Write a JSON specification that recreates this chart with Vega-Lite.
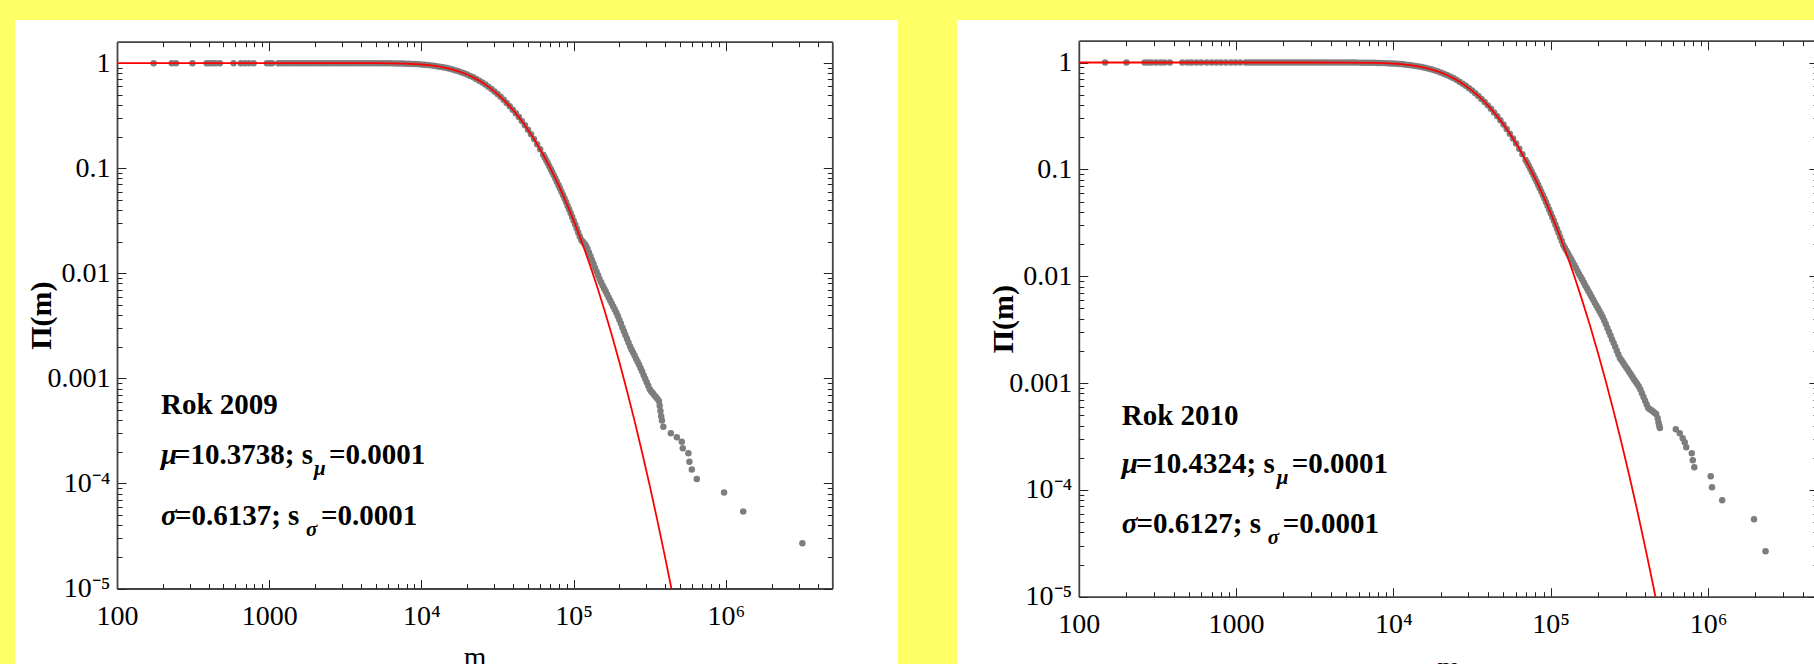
{
"$schema":"https://vega.github.io/schema/vega-lite/v6.json",
"background":"#ffff66",
"padding":{"left":15,"top":20,"right":0,"bottom":0},
"spacing":59,
"config":{"view":{"fill":"white","stroke":null},"axis":{"grid":false,"labelFont":"Liberation Serif","titleFont":"Liberation Serif","tickColor":"#222","tickWidth":1,"domainColor":"#444","domainWidth":1.8,"labelColor":"#000","titleColor":"#000","titleFontWeight":"normal"}},
"datasets":{
"d09":[{"m":174,"p":1},{"m":229,"p":1},{"m":244,"p":1},{"m":313,"p":1},{"m":388,"p":1},{"m":405,"p":1},{"m":422,"p":1},{"m":445,"p":1},{"m":474,"p":1},{"m":583,"p":1},{"m":650,"p":1},{"m":690,"p":1},{"m":735,"p":1},{"m":790,"p":1},{"m":965,"p":1},{"m":1010,"p":1},{"m":1045,"p":1},{"m":1148,"p":1},{"m":1202,"p":1},{"m":1259,"p":1},{"m":1318,"p":1},{"m":1380,"p":1},{"m":1445,"p":1},{"m":1514,"p":1},{"m":1585,"p":1},{"m":1660,"p":1},{"m":1738,"p":1},{"m":1820,"p":1},{"m":1905,"p":1},{"m":1995,"p":1},{"m":2089,"p":1},{"m":2188,"p":1},{"m":2291,"p":1},{"m":2399,"p":1},{"m":2512,"p":1},{"m":2630,"p":1},{"m":2754,"p":1},{"m":2884,"p":1},{"m":3020,"p":1},{"m":3162,"p":1},{"m":3311,"p":1},{"m":3467,"p":1},{"m":3631,"p":1},{"m":3802,"p":1},{"m":3981,"p":0.9997},{"m":4169,"p":0.9996},{"m":4365,"p":0.9994},{"m":4571,"p":0.9992},{"m":4786,"p":0.999},{"m":5012,"p":0.9987},{"m":5248,"p":0.9984},{"m":5495,"p":0.998},{"m":5754,"p":0.9974},{"m":6026,"p":0.9967},{"m":6310,"p":0.9959},{"m":6607,"p":0.9949},{"m":6918,"p":0.9937},{"m":7244,"p":0.9922},{"m":7586,"p":0.9905},{"m":7943,"p":0.9884},{"m":8318,"p":0.9859},{"m":8710,"p":0.983},{"m":9120,"p":0.9796},{"m":9550,"p":0.9756},{"m":10000,"p":0.971},{"m":10471,"p":0.9656},{"m":10965,"p":0.9595},{"m":11482,"p":0.9525},{"m":12023,"p":0.9446},{"m":12589,"p":0.9357},{"m":13183,"p":0.9258},{"m":13804,"p":0.9147},{"m":14454,"p":0.9023},{"m":15136,"p":0.8888},{"m":15849,"p":0.8739},{"m":16596,"p":0.8577},{"m":17378,"p":0.8401},{"m":18197,"p":0.8212},{"m":19055,"p":0.8009},{"m":19953,"p":0.7794},{"m":20893,"p":0.7565},{"m":21878,"p":0.7323},{"m":22909,"p":0.7071},{"m":23988,"p":0.6808},{"m":25119,"p":0.6536},{"m":26303,"p":0.6255},{"m":27542,"p":0.5968},{"m":28840,"p":0.5675},{"m":30200,"p":0.5378},{"m":31623,"p":0.5078},{"m":33113,"p":0.4779},{"m":34674,"p":0.448},{"m":36308,"p":0.4186},{"m":38019,"p":0.3895},{"m":39811,"p":0.361},{"m":41687,"p":0.3333},{"m":43652,"p":0.3065},{"m":45709,"p":0.2807},{"m":47863,"p":0.2559},{"m":50119,"p":0.2324},{"m":52481,"p":0.2101},{"m":54954,"p":0.1892},{"m":57544,"p":0.1695},{"m":60256,"p":0.1512},{"m":63096,"p":0.1343},{"m":64565,"p":0.1264},{"m":66069,"p":0.1188},{"m":67608,"p":0.1115},{"m":69183,"p":0.1045},{"m":70795,"p":0.0979},{"m":72444,"p":0.0916},{"m":74131,"p":0.0855},{"m":75858,"p":0.0798},{"m":77625,"p":0.0744},{"m":79433,"p":0.0693},{"m":81283,"p":0.0644},{"m":83176,"p":0.0598},{"m":85114,"p":0.0555},{"m":87096,"p":0.0514},{"m":89125,"p":0.0476},{"m":91201,"p":0.044},{"m":93325,"p":0.0406},{"m":95499,"p":0.0374},{"m":97724,"p":0.0345},{"m":100000,"p":0.0317},{"m":102329,"p":0.0291},{"m":104713,"p":0.0267},{"m":107152,"p":0.0245},{"m":109648,"p":0.0224},{"m":112202,"p":0.0207},{"m":114815,"p":0.02},{"m":117490,"p":0.0192},{"m":120226,"p":0.0184},{"m":123027,"p":0.0172},{"m":125893,"p":0.0158},{"m":128825,"p":0.0146},{"m":131826,"p":0.0134},{"m":134896,"p":0.0123},{"m":138038,"p":0.0113},{"m":141254,"p":0.0104},{"m":144544,"p":0.00957},{"m":147911,"p":0.00881},{"m":151356,"p":0.0082},{"m":154882,"p":0.00767},{"m":158489,"p":0.00718},{"m":162181,"p":0.00673},{"m":165959,"p":0.0063},{"m":169824,"p":0.00589},{"m":173780,"p":0.00551},{"m":177828,"p":0.00516},{"m":181970,"p":0.00483},{"m":186209,"p":0.00452},{"m":190546,"p":0.00424},{"m":194984,"p":0.00392},{"m":199526,"p":0.00361},{"m":204174,"p":0.00332},{"m":208930,"p":0.00305},{"m":213796,"p":0.00281},{"m":218776,"p":0.00259},{"m":223872,"p":0.00238},{"m":229087,"p":0.00219},{"m":234423,"p":0.00202},{"m":239883,"p":0.00188},{"m":245471,"p":0.00176},{"m":251189,"p":0.00165},{"m":257040,"p":0.00154},{"m":263027,"p":0.00144},{"m":269153,"p":0.00135},{"m":275423,"p":0.00125},{"m":281838,"p":0.00116},{"m":288403,"p":0.00107},{"m":295121,"p":0.000991},{"m":301995,"p":0.000918},{"m":309030,"p":0.000849},{"m":316228,"p":0.000787},{"m":323594,"p":0.00075},{"m":331131,"p":0.000721},{"m":338844,"p":0.000692},{"m":346737,"p":0.000665},{"m":354813,"p":0.000638},{"m":363078,"p":0.00061},{"m":367300,"p":0.00055},{"m":371535,"p":0.00049},{"m":375837,"p":0.000437},{"m":380189,"p":0.000398},{"m":388150,"p":0.000347},{"m":435000,"p":0.0003},{"m":476000,"p":0.000275},{"m":513000,"p":0.000249},{"m":521000,"p":0.000216},{"m":567000,"p":0.000194},{"m":576000,"p":0.000161},{"m":597000,"p":0.000136},{"m":644000,"p":0.00011},{"m":973000,"p":0.000082},{"m":1300000,"p":0.000054},{"m":3180000,"p":0.000027}],
"f09":[{"m":100,"p":1},{"m":1000,"p":1},{"m":3162,"p":0.99992},{"m":5012,"p":0.99874},{"m":6310,"p":0.9959},{"m":7943,"p":0.9884},{"m":10000,"p":0.971},{"m":11220,"p":0.9562},{"m":12589,"p":0.9357},{"m":14125,"p":0.9087},{"m":15849,"p":0.8739},{"m":17783,"p":0.8308},{"m":19953,"p":0.7794},{"m":22387,"p":0.7198},{"m":25119,"p":0.6536},{"m":28184,"p":0.582},{"m":31623,"p":0.5078},{"m":35481,"p":0.4333},{"m":39811,"p":0.361},{"m":44668,"p":0.2935},{"m":50119,"p":0.2324},{"m":56234,"p":0.1792},{"m":63096,"p":0.1343},{"m":70795,"p":0.0979},{"m":79433,"p":0.0693},{"m":89125,"p":0.0476},{"m":100000,"p":0.0317},{"m":112202,"p":0.0205},{"m":125893,"p":0.01282},{"m":141254,"p":0.00778},{"m":158489,"p":0.00457},{"m":177828,"p":0.0026},{"m":199526,"p":0.001432},{"m":223872,"p":0.000763},{"m":251189,"p":0.000394},{"m":281838,"p":0.000196},{"m":316228,"p":0.0000948},{"m":354813,"p":0.0000443},{"m":398107,"p":0.00002},{"m":438500,"p":0.00001}],
"d10":[{"m":147,"p":1},{"m":201,"p":1},{"m":262,"p":1},{"m":275,"p":1},{"m":290,"p":1},{"m":310,"p":1},{"m":330,"p":1},{"m":350,"p":1},{"m":379,"p":1},{"m":455,"p":1},{"m":490,"p":1},{"m":520,"p":1},{"m":560,"p":1},{"m":600,"p":1},{"m":650,"p":1},{"m":700,"p":1},{"m":750,"p":1},{"m":800,"p":1},{"m":860,"p":1},{"m":925,"p":1},{"m":990,"p":1},{"m":1060,"p":1},{"m":1148,"p":1},{"m":1202,"p":1},{"m":1259,"p":1},{"m":1318,"p":1},{"m":1380,"p":1},{"m":1445,"p":1},{"m":1514,"p":1},{"m":1585,"p":1},{"m":1660,"p":1},{"m":1738,"p":1},{"m":1820,"p":1},{"m":1905,"p":1},{"m":1995,"p":1},{"m":2089,"p":1},{"m":2188,"p":1},{"m":2291,"p":1},{"m":2399,"p":1},{"m":2512,"p":1},{"m":2630,"p":1},{"m":2754,"p":1},{"m":2884,"p":1},{"m":3020,"p":1},{"m":3162,"p":1},{"m":3311,"p":1},{"m":3467,"p":1},{"m":3631,"p":1},{"m":3802,"p":1},{"m":3981,"p":0.9998},{"m":4169,"p":0.9997},{"m":4365,"p":0.9996},{"m":4571,"p":0.9995},{"m":4786,"p":0.9993},{"m":5012,"p":0.9991},{"m":5248,"p":0.9988},{"m":5495,"p":0.9985},{"m":5754,"p":0.9981},{"m":6026,"p":0.9976},{"m":6310,"p":0.997},{"m":6607,"p":0.9962},{"m":6918,"p":0.9953},{"m":7244,"p":0.9942},{"m":7586,"p":0.9928},{"m":7943,"p":0.9911},{"m":8318,"p":0.9891},{"m":8710,"p":0.9868},{"m":9120,"p":0.984},{"m":9550,"p":0.9808},{"m":10000,"p":0.977},{"m":10471,"p":0.9726},{"m":10965,"p":0.9675},{"m":11482,"p":0.9616},{"m":12023,"p":0.9549},{"m":12589,"p":0.9473},{"m":13183,"p":0.9387},{"m":13804,"p":0.9291},{"m":14454,"p":0.9183},{"m":15136,"p":0.9064},{"m":15849,"p":0.8931},{"m":16596,"p":0.8786},{"m":17378,"p":0.8628},{"m":18197,"p":0.8457},{"m":19055,"p":0.8272},{"m":19953,"p":0.807},{"m":20893,"p":0.7858},{"m":21878,"p":0.7633},{"m":22909,"p":0.7396},{"m":23988,"p":0.7146},{"m":25119,"p":0.6883},{"m":26303,"p":0.6613},{"m":27542,"p":0.6335},{"m":28840,"p":0.6049},{"m":30200,"p":0.5757},{"m":31623,"p":0.5458},{"m":33113,"p":0.516},{"m":34674,"p":0.486},{"m":36308,"p":0.4562},{"m":38019,"p":0.4266},{"m":39811,"p":0.397},{"m":41687,"p":0.3684},{"m":43652,"p":0.3405},{"m":45709,"p":0.3135},{"m":47863,"p":0.2874},{"m":50119,"p":0.2624},{"m":52481,"p":0.2385},{"m":54954,"p":0.2157},{"m":57544,"p":0.1944},{"m":60256,"p":0.1744},{"m":63096,"p":0.1558},{"m":66069,"p":0.1385},{"m":69183,"p":0.1224},{"m":70795,"p":0.1151},{"m":72444,"p":0.1079},{"m":74131,"p":0.1011},{"m":75858,"p":0.0946},{"m":77625,"p":0.0884},{"m":79433,"p":0.0826},{"m":81283,"p":0.077},{"m":83176,"p":0.0717},{"m":85114,"p":0.0667},{"m":87096,"p":0.0619},{"m":89125,"p":0.0575},{"m":91201,"p":0.0533},{"m":93325,"p":0.0494},{"m":95499,"p":0.0456},{"m":97724,"p":0.0421},{"m":100000,"p":0.0389},{"m":102329,"p":0.0358},{"m":104713,"p":0.033},{"m":107152,"p":0.0303},{"m":109648,"p":0.0278},{"m":112202,"p":0.0255},{"m":114815,"p":0.0233},{"m":117490,"p":0.0213},{"m":120226,"p":0.0196},{"m":123027,"p":0.0184},{"m":125893,"p":0.0173},{"m":128825,"p":0.0163},{"m":131826,"p":0.0153},{"m":134896,"p":0.0144},{"m":138038,"p":0.0135},{"m":141254,"p":0.0127},{"m":144544,"p":0.0119},{"m":147911,"p":0.0112},{"m":151356,"p":0.0105},{"m":154882,"p":0.00989},{"m":158489,"p":0.00929},{"m":162181,"p":0.00873},{"m":165959,"p":0.0082},{"m":169824,"p":0.00771},{"m":173780,"p":0.00724},{"m":177828,"p":0.00681},{"m":181970,"p":0.0064},{"m":186209,"p":0.00601},{"m":190546,"p":0.00565},{"m":194984,"p":0.00531},{"m":199526,"p":0.005},{"m":204174,"p":0.0047},{"m":208930,"p":0.00442},{"m":213796,"p":0.00416},{"m":218776,"p":0.00385},{"m":223872,"p":0.00356},{"m":229087,"p":0.00327},{"m":234423,"p":0.00302},{"m":239883,"p":0.00279},{"m":245471,"p":0.00256},{"m":251189,"p":0.00237},{"m":257040,"p":0.00218},{"m":263027,"p":0.00201},{"m":269153,"p":0.00185},{"m":275423,"p":0.00171},{"m":281838,"p":0.00163},{"m":288403,"p":0.00155},{"m":295121,"p":0.00147},{"m":301995,"p":0.0014},{"m":309030,"p":0.00133},{"m":316228,"p":0.00126},{"m":323594,"p":0.0012},{"m":331131,"p":0.00114},{"m":338844,"p":0.00108},{"m":346737,"p":0.00103},{"m":354813,"p":0.000977},{"m":363078,"p":0.000929},{"m":371535,"p":0.000871},{"m":380189,"p":0.000804},{"m":389045,"p":0.000741},{"m":398107,"p":0.000684},{"m":407380,"p":0.000631},{"m":416869,"p":0.000585},{"m":426580,"p":0.000569},{"m":436516,"p":0.000555},{"m":446684,"p":0.00054},{"m":457088,"p":0.000526},{"m":467735,"p":0.000512},{"m":478630,"p":0.000468},{"m":484172,"p":0.000427},{"m":489779,"p":0.000398},{"m":494310,"p":0.00038},{"m":624000,"p":0.00037},{"m":661000,"p":0.000339},{"m":690000,"p":0.000304},{"m":711000,"p":0.000279},{"m":727000,"p":0.000251},{"m":788000,"p":0.00022},{"m":800000,"p":0.000189},{"m":818000,"p":0.000163},{"m":1040000,"p":0.000134},{"m":1060000,"p":0.000106},{"m":1230000,"p":0.00008},{"m":1960000,"p":0.000053},{"m":2320000,"p":0.0000266}],
"f10":[{"m":100,"p":1},{"m":1000,"p":1},{"m":3162,"p":0.99995},{"m":5012,"p":0.9991},{"m":7943,"p":0.99111},{"m":10000,"p":0.97698},{"m":11220,"p":0.9646},{"m":12589,"p":0.9473},{"m":14125,"p":0.9238},{"m":15849,"p":0.8931},{"m":17783,"p":0.8543},{"m":19953,"p":0.807},{"m":22387,"p":0.7514},{"m":25119,"p":0.6883},{"m":28184,"p":0.6192},{"m":31623,"p":0.5458},{"m":35481,"p":0.4711},{"m":39811,"p":0.3972},{"m":44668,"p":0.327},{"m":50119,"p":0.2623},{"m":56234,"p":0.2049},{"m":63096,"p":0.1557},{"m":70795,"p":0.1151},{"m":79433,"p":0.0826},{"m":89125,"p":0.0575},{"m":100000,"p":0.0389},{"m":112202,"p":0.0255},{"m":125893,"p":0.0162},{"m":141254,"p":0.00997},{"m":158489,"p":0.00594},{"m":177828,"p":0.00343},{"m":199526,"p":0.00192},{"m":223872,"p":0.00104},{"m":251189,"p":0.000543},{"m":281838,"p":0.000275},{"m":316228,"p":0.000135},{"m":354813,"p":0.000064},{"m":398107,"p":0.0000293},{"m":446684,"p":0.000013},{"m":463000,"p":0.00001}],
"t09b":[{"m":194.5,"p":0.000458,"t":"Rok 2009"},{"m":237,"p":0.0001532,"t":"=10.3738; s"},{"m":2472,"p":0.0001532,"t":"=0.0001"},{"m":240,"p":0.0000403,"t":"=0.6137; s"},{"m":2189,"p":0.0000403,"t":"=0.0001"}],
"t09i":[{"m":194.5,"p":0.0001532,"t":"μ"},{"m":194.5,"p":0.0000403,"t":"σ"}],
"t09s":[{"m":1970,"p":0.0001205,"t":"μ"},{"m":1745,"p":0.0000317,"t":"σ"}],
"t10b":[{"m":187.6,"p":0.000403,"t":"Rok 2010"},{"m":230,"p":0.000143,"t":"=10.4324; s"},{"m":2260,"p":0.000143,"t":"=0.0001"},{"m":233,"p":0.0000392,"t":"=0.6127; s"},{"m":1982,"p":0.0000392,"t":"=0.0001"}],
"t10i":[{"m":187.6,"p":0.000143,"t":"μ"},{"m":187.6,"p":0.0000392,"t":"σ"}],
"t10s":[{"m":1815,"p":0.000113,"t":"μ"},{"m":1591,"p":0.0000309,"t":"σ"}]
},
"hconcat":[
{
"width":883,"height":660,
"resolve":{"axis":{"x":"independent","y":"independent"}},
"layer":[
{"data":{"name":"d09"},"mark":{"type":"circle","size":42,"color":"#7d7d7d","opacity":1},
"encoding":{
"x":{"field":"m","type":"quantitative","scale":{"type":"log","domain":[100,5000000],"range":[102,817.3],"nice":false},
"axis":{"orient":"bottom","offset":-91.5,"values":[100,1000,10000,100000,1000000],"tickSize":-9,"labelFontSize":28,"labelPadding":22.5,"labelFlush":false,"labelOverlap":false,"labelBound":false,"labelExpr":"datum.value < 5000 ? format(datum.value, 'd') : datum.value < 50000 ? '10⁴' : datum.value < 500000 ? '10⁵' : '10⁶'","title":"m","titleFontSize":29,"titleBaseline":"alphabetic","titleY":78}},
"y":{"field":"p","type":"quantitative","scale":{"type":"log","domain":[0.00001,1.6],"range":[568.5,21.7],"nice":false},
"axis":{"orient":"left","offset":-102,"values":[0.00001,0.0001,0.001,0.01,0.1,1],"tickSize":-9,"labelFontSize":28,"labelPadding":16,"labelOverlap":false,"labelBound":false,"labelExpr":"datum.value > 0.5 ? '1' : datum.value > 0.05 ? '0.1' : datum.value > 0.005 ? '0.01' : datum.value > 0.0005 ? '0.001' : datum.value > 0.00005 ? '10⁻⁴' : '10⁻⁵'","title":"Π(m)","titleFontSize":30,"titleFontWeight":"bold","titleAngle":-90,"titleX":-76,"titleAlign":"center","titleBaseline":"middle"}}}},
{"data":{"name":"f09"},"mark":{"type":"line","color":"#ff0000","strokeWidth":1.8},
"encoding":{
"x":{"field":"m","type":"quantitative","scale":{"type":"log","domain":[100,5000000],"range":[102,817.3],"nice":false},
"axis":{"orient":"bottom","offset":-91.5,"values":[200,300,400,500,600,700,800,900,2000,3000,4000,5000,6000,7000,8000,9000,20000,30000,40000,50000,60000,70000,80000,90000,200000,300000,400000,500000,600000,700000,800000,900000,2000000,3000000,4000000],"tickSize":-5,"labels":false,"domain":false,"title":null}},
"y":{"field":"p","type":"quantitative","scale":{"type":"log","domain":[0.00001,1.6],"range":[568.5,21.7],"nice":false},
"axis":{"orient":"left","offset":-102,"values":[0.00002,0.00003,0.00004,0.00005,0.00006,0.00007,0.00008,0.00009,0.0002,0.0003,0.0004,0.0005,0.0006,0.0007,0.0008,0.0009,0.002,0.003,0.004,0.005,0.006,0.007,0.008,0.009,0.02,0.03,0.04,0.05,0.06,0.07,0.08,0.09,0.2,0.3,0.4,0.5,0.6,0.7,0.8,0.9],"tickSize":-5,"labels":false,"domain":false,"title":null}}}},
{"data":{"name":"t09b"},"mark":{"type":"text","font":"Liberation Serif","fontWeight":"bold","fontSize":29,"align":"left","baseline":"alphabetic","color":"#000"},
"encoding":{
"x":{"field":"m","type":"quantitative","scale":{"type":"log","domain":[100,5000000],"range":[102,817.3],"nice":false},
"axis":{"orient":"top","offset":-21.7,"values":[100,1000,10000,100000,1000000],"tickSize":-9,"labels":false,"title":null}},
"y":{"field":"p","type":"quantitative","scale":{"type":"log","domain":[0.00001,1.6],"range":[568.5,21.7],"nice":false},
"axis":{"orient":"right","offset":-65.7,"values":[0.00001,0.0001,0.001,0.01,0.1,1],"tickSize":-9,"labels":false,"title":null}},
"text":{"field":"t","type":"nominal"}}},
{"data":{"name":"t09i"},"mark":{"type":"text","font":"Liberation Serif","fontWeight":"bold","fontStyle":"italic","fontSize":29,"align":"left","baseline":"alphabetic","color":"#000"},
"encoding":{
"x":{"field":"m","type":"quantitative","scale":{"type":"log","domain":[100,5000000],"range":[102,817.3],"nice":false},
"axis":{"orient":"top","offset":-21.7,"values":[200,300,400,500,600,700,800,900,2000,3000,4000,5000,6000,7000,8000,9000,20000,30000,40000,50000,60000,70000,80000,90000,200000,300000,400000,500000,600000,700000,800000,900000,2000000,3000000,4000000],"tickSize":-5,"labels":false,"domain":false,"title":null}},
"y":{"field":"p","type":"quantitative","scale":{"type":"log","domain":[0.00001,1.6],"range":[568.5,21.7],"nice":false},
"axis":{"orient":"right","offset":-65.7,"values":[0.00002,0.00003,0.00004,0.00005,0.00006,0.00007,0.00008,0.00009,0.0002,0.0003,0.0004,0.0005,0.0006,0.0007,0.0008,0.0009,0.002,0.003,0.004,0.005,0.006,0.007,0.008,0.009,0.02,0.03,0.04,0.05,0.06,0.07,0.08,0.09,0.2,0.3,0.4,0.5,0.6,0.7,0.8,0.9],"tickSize":-5,"labels":false,"domain":false,"title":null}},
"text":{"field":"t","type":"nominal"}}},
{"data":{"name":"t09s"},"mark":{"type":"text","font":"Liberation Serif","fontWeight":"bold","fontStyle":"italic","fontSize":21,"align":"left","baseline":"alphabetic","color":"#000"},
"encoding":{
"x":{"field":"m","type":"quantitative","scale":{"type":"log","domain":[100,5000000],"range":[102,817.3],"nice":false},"axis":null},
"y":{"field":"p","type":"quantitative","scale":{"type":"log","domain":[0.00001,1.6],"range":[568.5,21.7],"nice":false},"axis":null},
"text":{"field":"t","type":"nominal"}}}
]
},
{
"width":870,"height":660,
"resolve":{"axis":{"x":"independent","y":"independent"}},
"layer":[
{"data":{"name":"d10"},"mark":{"type":"circle","size":42,"color":"#7d7d7d","opacity":1},
"encoding":{
"x":{"field":"m","type":"quantitative","scale":{"type":"log","domain":[100,5000000],"range":[121.8,861],"nice":false},
"axis":{"orient":"bottom","offset":-83.3,"values":[100,1000,10000,100000,1000000],"tickSize":-9,"labelFontSize":28,"labelPadding":22.5,"labelFlush":false,"labelOverlap":false,"labelBound":false,"labelExpr":"datum.value < 5000 ? format(datum.value, 'd') : datum.value < 50000 ? '10⁴' : datum.value < 500000 ? '10⁵' : '10⁶'","title":"m","titleFontSize":29,"titleBaseline":"alphabetic","titleY":80}},
"y":{"field":"p","type":"quantitative","scale":{"type":"log","domain":[0.00001,1.6],"range":[576.7,20.7],"nice":false},
"axis":{"orient":"left","offset":-121.8,"values":[0.00001,0.0001,0.001,0.01,0.1,1],"tickSize":-9,"labelFontSize":28,"labelPadding":16,"labelOverlap":false,"labelBound":false,"labelExpr":"datum.value > 0.5 ? '1' : datum.value > 0.05 ? '0.1' : datum.value > 0.005 ? '0.01' : datum.value > 0.0005 ? '0.001' : datum.value > 0.00005 ? '10⁻⁴' : '10⁻⁵'","title":"Π(m)","titleFontSize":30,"titleFontWeight":"bold","titleAngle":-90,"titleX":-75,"titleAlign":"center","titleBaseline":"middle"}}}},
{"data":{"name":"f10"},"mark":{"type":"line","color":"#ff0000","strokeWidth":1.8},
"encoding":{
"x":{"field":"m","type":"quantitative","scale":{"type":"log","domain":[100,5000000],"range":[121.8,861],"nice":false},
"axis":{"orient":"bottom","offset":-83.3,"values":[200,300,400,500,600,700,800,900,2000,3000,4000,5000,6000,7000,8000,9000,20000,30000,40000,50000,60000,70000,80000,90000,200000,300000,400000,500000,600000,700000,800000,900000,2000000,3000000,4000000],"tickSize":-5,"labels":false,"domain":false,"title":null}},
"y":{"field":"p","type":"quantitative","scale":{"type":"log","domain":[0.00001,1.6],"range":[576.7,20.7],"nice":false},
"axis":{"orient":"left","offset":-121.8,"values":[0.00002,0.00003,0.00004,0.00005,0.00006,0.00007,0.00008,0.00009,0.0002,0.0003,0.0004,0.0005,0.0006,0.0007,0.0008,0.0009,0.002,0.003,0.004,0.005,0.006,0.007,0.008,0.009,0.02,0.03,0.04,0.05,0.06,0.07,0.08,0.09,0.2,0.3,0.4,0.5,0.6,0.7,0.8,0.9],"tickSize":-5,"labels":false,"domain":false,"title":null}}}},
{"data":{"name":"t10b"},"mark":{"type":"text","font":"Liberation Serif","fontWeight":"bold","fontSize":29,"align":"left","baseline":"alphabetic","color":"#000"},
"encoding":{
"x":{"field":"m","type":"quantitative","scale":{"type":"log","domain":[100,5000000],"range":[121.8,861],"nice":false},
"axis":{"orient":"top","offset":-20.7,"values":[100,1000,10000,100000,1000000],"tickSize":-9,"labels":false,"title":null}},
"y":{"field":"p","type":"quantitative","scale":{"type":"log","domain":[0.00001,1.6],"range":[576.7,20.7],"nice":false},
"axis":{"orient":"right","offset":-9,"values":[0.00001,0.0001,0.001,0.01,0.1,1],"tickSize":-9,"labels":false,"title":null}},
"text":{"field":"t","type":"nominal"}}},
{"data":{"name":"t10i"},"mark":{"type":"text","font":"Liberation Serif","fontWeight":"bold","fontStyle":"italic","fontSize":29,"align":"left","baseline":"alphabetic","color":"#000"},
"encoding":{
"x":{"field":"m","type":"quantitative","scale":{"type":"log","domain":[100,5000000],"range":[121.8,861],"nice":false},
"axis":{"orient":"top","offset":-20.7,"values":[200,300,400,500,600,700,800,900,2000,3000,4000,5000,6000,7000,8000,9000,20000,30000,40000,50000,60000,70000,80000,90000,200000,300000,400000,500000,600000,700000,800000,900000,2000000,3000000,4000000],"tickSize":-5,"labels":false,"domain":false,"title":null}},
"y":{"field":"p","type":"quantitative","scale":{"type":"log","domain":[0.00001,1.6],"range":[576.7,20.7],"nice":false},
"axis":{"orient":"right","offset":-9,"values":[0.00002,0.00003,0.00004,0.00005,0.00006,0.00007,0.00008,0.00009,0.0002,0.0003,0.0004,0.0005,0.0006,0.0007,0.0008,0.0009,0.002,0.003,0.004,0.005,0.006,0.007,0.008,0.009,0.02,0.03,0.04,0.05,0.06,0.07,0.08,0.09,0.2,0.3,0.4,0.5,0.6,0.7,0.8,0.9],"tickSize":-5,"labels":false,"domain":false,"title":null}},
"text":{"field":"t","type":"nominal"}}},
{"data":{"name":"t10s"},"mark":{"type":"text","font":"Liberation Serif","fontWeight":"bold","fontStyle":"italic","fontSize":21,"align":"left","baseline":"alphabetic","color":"#000"},
"encoding":{
"x":{"field":"m","type":"quantitative","scale":{"type":"log","domain":[100,5000000],"range":[121.8,861],"nice":false},"axis":null},
"y":{"field":"p","type":"quantitative","scale":{"type":"log","domain":[0.00001,1.6],"range":[576.7,20.7],"nice":false},"axis":null},
"text":{"field":"t","type":"nominal"}}}
]
}
]
}
